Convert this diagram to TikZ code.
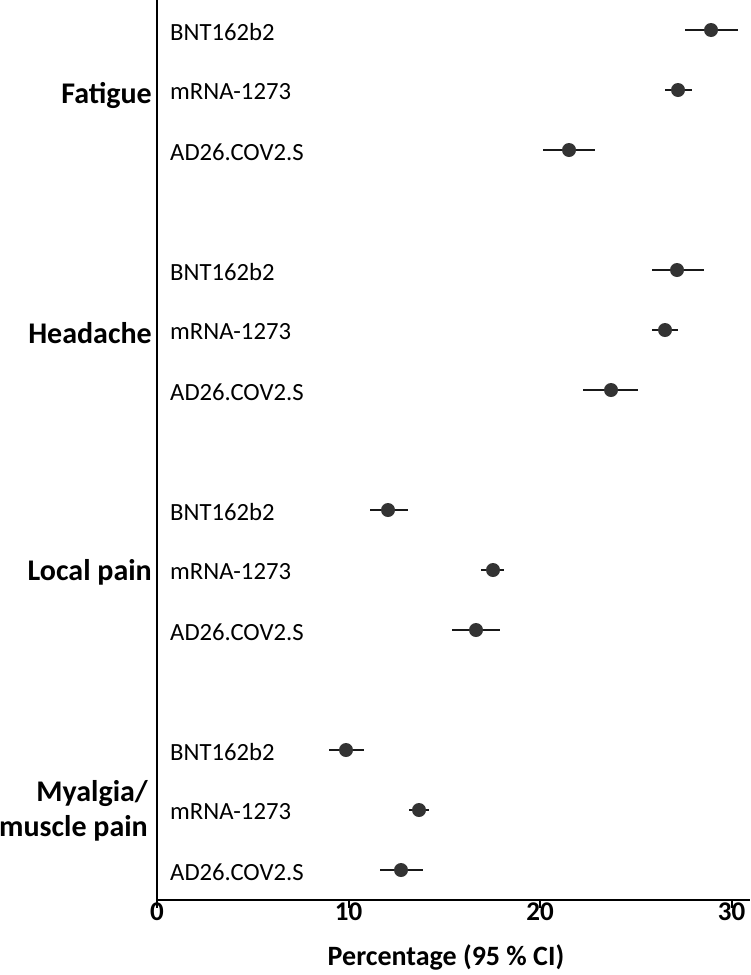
\documentclass[tikz,border=0pt]{standalone}
\usepackage{fontspec}
\setmainfont{Carlito}
\begin{document}
\begin{tikzpicture}[x=1pt,y=-1pt,
  axisline/.style={line width=2pt,black},
  cibar/.style={line width=2pt,black!90},
  dotmark/.style={circle,fill=black!80,inner sep=0pt,minimum size=14pt},
  sublabel/.style={anchor=west,inner sep=0pt,font=\fontsize{24.7}{27}\selectfont},
  grouplabel/.style={anchor=east,inner sep=0pt,align=right,font=\fontsize{30}{35}\selectfont\bfseries},
  ticklabel/.style={anchor=north,inner sep=0pt,font=\fontsize{27}{29}\selectfont\bfseries}]
\useasboundingbox (0,0) rectangle (750,975);
% axes
\coordinate (top) at (157,0);
\coordinate (orig) at (157,900);
\coordinate (xend) at (750,900);
\draw[axisline] (top) -- (157,908);
\draw[axisline] (orig) -- (xend);
\foreach \v/\px in {0/157,10/348.5,20/540,30/731.5}{
  \draw[axisline] (\px,900) -- (\px,908);
  \node[ticklabel] (t\v) at (\px,903) {\v};
}
\node[anchor=center,inner sep=0pt,font=\fontsize{28}{30}\selectfont\bfseries] (xtitle) at (446,957) {Percentage (95 \% CI)};
% group labels
\node[grouplabel] (gF) at (152,95) {Fatigue};
\node[grouplabel] (gH) at (152,333) {Headache};
\node[grouplabel] (gL) at (152,572) {Local pain};
\node[grouplabel] (gM) at (148,811) {Myalgia/\\muscle pain};
% sub labels and points
\foreach \n/\y/\lab/\c/\lo/\hi in {
  a/30/BNT162b2/711/685/738,
  b/90/mRNA-1273/678/665/692,
  c/150/AD26.COV2.S/569/543/595,
  d/270/BNT162b2/677/652/704,
  e/330/mRNA-1273/665/652/678,
  f/390/AD26.COV2.S/611/583/638,
  g/510/BNT162b2/388/370/408,
  h/570/mRNA-1273/493/481/504,
  i/630/AD26.COV2.S/476/452/500,
  j/750/BNT162b2/346/329/364,
  k/810/mRNA-1273/419/409/429,
  l/870/AD26.COV2.S/401/380/423}{
  \node[sublabel] (s\n) at (170,\y+2) {\lab};
  \coordinate (lo\n) at (\lo,\y);
  \coordinate (hi\n) at (\hi,\y);
  \draw[cibar] (lo\n) -- (hi\n);
  \node[dotmark] (p\n) at (\c,\y) {};
}
\end{tikzpicture}
\end{document}
